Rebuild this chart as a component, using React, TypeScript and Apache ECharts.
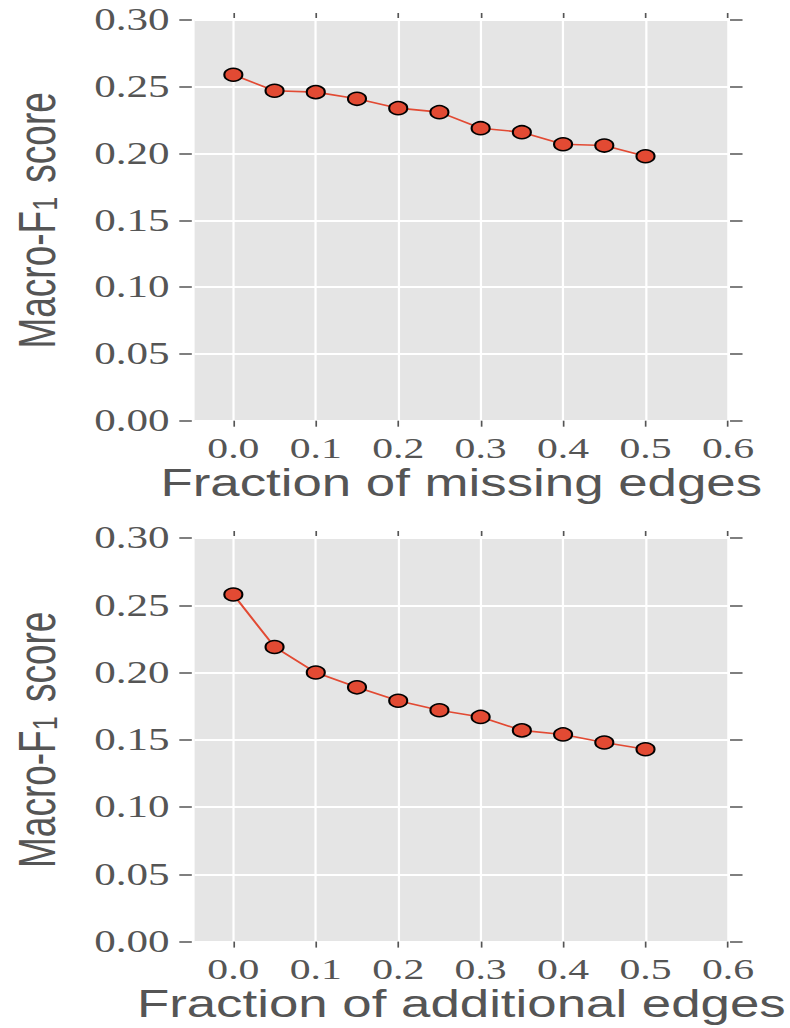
import React, { useEffect, useRef } from "react";
import * as echarts from "echarts";

const fractions = [0, 0.05, 0.1, 0.15, 0.2, 0.25, 0.3, 0.35, 0.4, 0.45, 0.5];
const missingEdgesF1 = [0.259, 0.247, 0.246, 0.241, 0.234, 0.231, 0.219, 0.216, 0.207, 0.206, 0.198];
const additionalEdgesF1 = [0.258, 0.219, 0.2, 0.189, 0.179, 0.172, 0.167, 0.157, 0.154, 0.148, 0.143];
const xTickValues = [0, 0.1, 0.2, 0.3, 0.4, 0.5, 0.6];
const xTitles = ["Fraction of missing edges", "Fraction of additional edges"];
const yTitle = "Macro-F{sub|1} score";
const panels = [missingEdgesF1, additionalEdgesF1];

const SX = 1.39;
const W = 790 / SX;
const H = 1028;

const TEXT = "#555555";
const TICK = "#555555";
const RED = "#E24A33";

const grids = [
  { left: 137.2, top: 20, width: 386.5, height: 400.7 },
  { left: 137.2, top: 538, width: 386.5, height: 403.6 },
];

export default function App() {
  const ref = useRef<HTMLDivElement>(null);
  useEffect(() => {
    const chart = echarts.init(ref.current!, null, { renderer: "svg" });
    const xAxis: any[] = [];
    const yAxis: any[] = [];
    const series: any[] = [];
    panels.forEach((vals, i) => {
      xAxis.push({
        type: "value",
        gridIndex: i,
        min: -0.047,
        max: 0.6,
        position: "bottom",
        axisLine: { show: false, onZero: false },
        axisTick: { show: true, length: 6, customValues: xTickValues, lineStyle: { color: TICK, width: 1.2 } },
        axisLabel: {
          customValues: xTickValues,
          formatter: (v: number) => v.toFixed(1),
          fontFamily: "Liberation Serif",
          fontSize: 30,
          color: TEXT,
          margin: 12,
        },
        splitLine: { show: true, lineStyle: { color: "#ffffff", width: 1.6 } },
        name: xTitles[i],
        nameLocation: "middle",
        nameGap: 41,
        nameTextStyle: { fontFamily: "Liberation Sans", fontSize: 38, color: TEXT },
      });
      xAxis.push({
        type: "value",
        gridIndex: i,
        min: -0.047,
        max: 0.6,
        position: "top",
        offset: 2,
        axisLine: { show: false, onZero: false },
        axisTick: { show: true, length: 5, customValues: xTickValues, lineStyle: { color: TICK, width: 1.2 } },
        axisLabel: { show: false, customValues: xTickValues },
        splitLine: { show: false },
      });
      yAxis.push({
        type: "value",
        gridIndex: i,
        min: 0,
        max: 0.3,
        interval: 0.05,
        position: "left",
        offset: 2,
        axisLine: { show: false, onZero: false },
        axisTick: { show: true, length: 9, lineStyle: { color: TICK, width: 1.5 } },
        axisLabel: {
          formatter: (v: number) => v.toFixed(2),
          fontFamily: "Liberation Serif",
          fontSize: 31,
          color: TEXT,
          margin: 16,
        },
        splitLine: { show: true, lineStyle: { color: "#ffffff", width: 2 } },
        name: yTitle,
        nameLocation: "middle",
        nameRotate: 90,
        nameGap: 93,
        nameTextStyle: {
          fontFamily: "Liberation Sans",
          fontSize: 37,
          color: TEXT,
          rich: {
            sub: { fontFamily: "Liberation Sans", fontSize: 25, color: TEXT, padding: [12, 4, 0, 0] },
          },
        },
      });
      yAxis.push({
        type: "value",
        gridIndex: i,
        min: 0,
        max: 0.3,
        interval: 0.05,
        position: "right",
        offset: 1.5,
        axisLine: { show: false, onZero: false },
        axisTick: { show: true, length: 9, lineStyle: { color: TICK, width: 1.5 } },
        axisLabel: { show: false },
        splitLine: { show: false },
      });
      series.push({
        type: "line",
        xAxisIndex: 2 * i,
        yAxisIndex: 2 * i,
        data: fractions.map((x, j) => [x, vals[j]]),
        symbol: "circle",
        symbolSize: 13,
        itemStyle: { color: RED, borderColor: "#000000", borderWidth: 1.5 },
        lineStyle: { color: RED, width: 1.6 },
        z: 10,
      });
    });
    chart.setOption({
      animation: false,
      backgroundColor: "#ffffff",
      grid: grids.map((g) => ({ ...g, show: true, backgroundColor: "#E5E5E5", borderWidth: 0 })),
      xAxis,
      yAxis,
      series,
    });
    return () => chart.dispose();
  }, []);
  return (
    <div
      ref={ref}
      style={{
        position: "fixed",
        left: 0,
        top: 0,
        width: W,
        height: H,
        transform: `scaleX(${SX})`,
        transformOrigin: "0 0",
      }}
    />
  );
}
